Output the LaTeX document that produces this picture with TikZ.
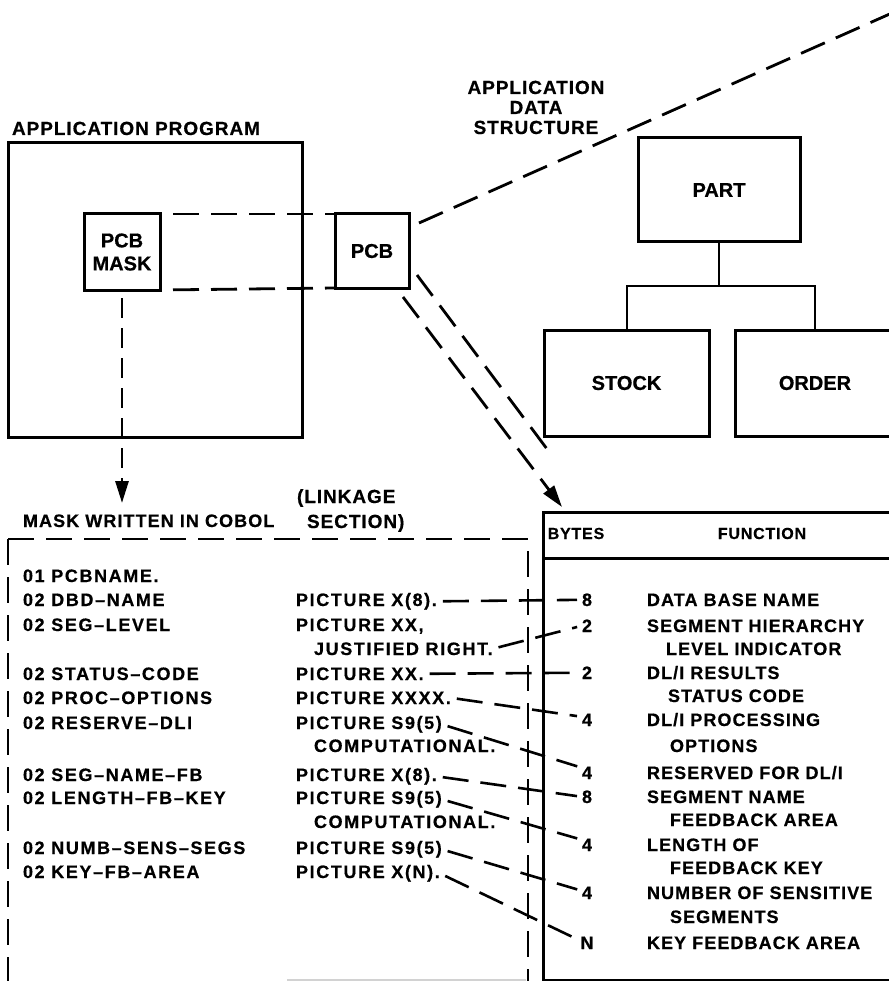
\documentclass[tikz,border=0pt]{standalone}
\usepackage{fontspec}
\setmainfont{Liberation Sans}[LetterSpace=9,BoldFeatures={FakeBold=0.6}]
\newfontfamily\rightfont{Liberation Sans}[LetterSpace=6,BoldFeatures={FakeBold=0.6}]
\newfontfamily\boxfont{Liberation Sans}[BoldFeatures={FakeBold=0.6}]
\newfontfamily\headfont{Liberation Sans}[LetterSpace=5,BoldFeatures={FakeBold=0.6}]
\usetikzlibrary{arrows.meta,calc}
\begin{document}
\begin{tikzpicture}[x=1pt,y=-1pt,
  every node/.style={inner sep=0pt,outer sep=0pt},
  txt/.style={anchor=base west,font=\bfseries\fontsize{18}{20}\selectfont},
  rtxt/.style={anchor=base west,font=\rightfont\bfseries\fontsize{18}{20}\selectfont},
  num/.style={anchor=base,font=\rightfont\bfseries\fontsize{18}{20}\selectfont},
  colhead/.style={anchor=base,font=\headfont\bfseries\fontsize{16}{20}\selectfont},
  headlbl/.style={font=\headfont\bfseries\fontsize{19}{20}\selectfont},
  boxlbl/.style={draw,line width=3pt,align=center,font=\boxfont\bfseries\fontsize{20}{23}\selectfont},
  dsh/.style={line width=2.8pt,dash pattern=on 26pt off 12pt},
  conn/.style={line width=2.6pt,dash pattern=on 26pt off 12pt,shorten <=6pt,shorten >=5pt},
  treeline/.style={line width=2pt},
  tblline/.style={line width=3pt},
  headtip/.style={-{Triangle[length=22pt,width=13pt]}}
]
\useasboundingbox (0,0) rectangle (888,981);
% headings
\node[headlbl,anchor=base west] (hprog) at (12,135) {APPLICATION PROGRAM};
\node[headlbl,anchor=base] (hads1) at (536,94) {APPLICATION};
\node[headlbl,anchor=base] (hads2) at (536,114) {DATA};
\node[headlbl,anchor=base] (hads3) at (536,134) {STRUCTURE};
% boxes
\node[boxlbl,minimum width=294,minimum height=294] (app) at (155.5,290) {};
\node[boxlbl,minimum width=76,minimum height=76] (mask) at (122,252) {PCB\\MASK};
\node[boxlbl,minimum width=74,minimum height=74] (pcb) at (372,251) {PCB};
\node[boxlbl,minimum width=162,minimum height=104] (part) at (719,190) {PART};
\node[boxlbl,minimum width=165,minimum height=106] (stock) at (626.5,383) {STOCK};
\node[boxlbl,minimum width=160,minimum height=106] (order) at (815,383) {ORDER};
% tree
\draw[treeline] (part.south) -- (part.south |- 0,286) coordinate (tj);
\draw[treeline] (stock.north) -- (stock.north |- tj) -| (order.north);
% mask - pcb
\draw[dsh,shorten <=13pt] (mask.north east) -- (pcb.north west);
\draw[dsh,shorten <=13pt] (mask.south east) -- (pcb.south west);
\coordinate (ne) at (892,13);
\draw[dsh] ([xshift=10pt,yshift=-9pt]pcb.north east) -- (ne);
\coordinate (tblend) at (553,457);
\coordinate (tbltip) at (562,507);
\draw[dsh] ([xshift=8pt,yshift=13pt]pcb.south east) -- (tblend);
\draw[dsh,headtip] ([xshift=-6pt,yshift=-9pt]pcb.south east) -- (tbltip);
\coordinate (ctip) at (122,503);
\draw[dsh,headtip,dash pattern=on 20pt off 10pt,shorten <=8pt] (mask.south) -- (ctip);
% cobol labels
\node[headlbl,anchor=base west] (link1) at (297,503) {(LINKAGE};
\node[headlbl,anchor=base west] (link2) at (307,528) {SECTION)};
\node[rtxt] (mwc) at (23,527) {MASK WRITTEN IN COBOL};
% cobol dashed frame
\draw[dsh] (8,539) -- (8,990);
\draw[dsh] (8,539) -- (528,539) -- (528,990);
\draw[gray!35,line width=1.5pt] (287,980) -- (526,980);
% table
\draw[tblline] (892,512) -- (543,512) -- (543,985);
\draw[tblline] (543,558) -- (892,558);
\draw[tblline] (543,980) -- (892,980);
\node[colhead] (hbytes) at (576,539) {BYTES};
\node[colhead] (hfunc) at (762,539) {FUNCTION};
% cobol lines
\node[txt] (l1) at (23,582) {01 PCBNAME.};
\node[txt] (l2) at (23,606) {02 DBD–NAME};
\node[txt] (l3) at (23,631) {02 SEG–LEVEL};
\node[txt] (l4) at (23,680) {02 STATUS–CODE};
\node[txt] (l5) at (23,704) {02 PROC–OPTIONS};
\node[txt] (l6) at (23,729) {02 RESERVE–DLI};
\node[txt] (l7) at (23,781) {02 SEG–NAME–FB};
\node[txt] (l8) at (23,804) {02 LENGTH–FB–KEY};
\node[txt] (l9) at (23,854) {02 NUMB–SENS–SEGS};
\node[txt] (l10) at (23,878) {02 KEY–FB–AREA};
\node[txt] (p2) at (296,606) {PICTURE X(8).};
\node[txt] (p3) at (296,631) {PICTURE XX,};
\node[txt] (p3b) at (314,655) {JUSTIFIED RIGHT.};
\node[txt] (p4) at (296,680) {PICTURE XX.};
\node[txt] (p5) at (296,704) {PICTURE XXXX.};
\node[txt] (p6) at (296,729) {PICTURE S9(5)};
\node[txt] (p6b) at (314,752) {COMPUTATIONAL.};
\node[txt] (p7) at (296,781) {PICTURE X(8).};
\node[txt] (p8) at (296,804) {PICTURE S9(5)};
\node[txt] (p8b) at (314,828) {COMPUTATIONAL.};
\node[txt] (p9) at (296,854) {PICTURE S9(5)};
\node[txt] (p10) at (296,878) {PICTURE X(N).};
% bytes
\node[num] (b1) at (587,606) {8};
\node[num] (b2) at (587,632) {2};
\node[num] (b3) at (587,679) {2};
\node[num] (b4) at (587,726) {4};
\node[num] (b5) at (587,779) {4};
\node[num] (b6) at (587,803) {8};
\node[num] (b7) at (587,851) {4};
\node[num] (b8) at (587,899) {4};
\node[num] (b9) at (587,949) {N};
% functions
\node[rtxt] (f1) at (647,606) {DATA BASE NAME};
\node[rtxt] (f2) at (647,632) {SEGMENT HIERARCHY};
\node[rtxt] (f2b) at (666,655) {LEVEL INDICATOR};
\node[rtxt] (f3) at (647,679) {DL/I RESULTS};
\node[rtxt] (f3b) at (668,702) {STATUS CODE};
\node[rtxt] (f4) at (647,726) {DL/I PROCESSING};
\node[rtxt] (f4b) at (670,752) {OPTIONS};
\node[rtxt] (f5) at (647,779) {RESERVED FOR DL/I};
\node[rtxt] (f6) at (647,803) {SEGMENT NAME};
\node[rtxt] (f6b) at (670,826) {FEEDBACK AREA};
\node[rtxt] (f7) at (647,851) {LENGTH OF};
\node[rtxt] (f7b) at (670,874) {FEEDBACK KEY};
\node[rtxt] (f8) at (647,899) {NUMBER OF SENSITIVE};
\node[rtxt] (f8b) at (670,923) {SEGMENTS};
\node[rtxt] (f9) at (647,949) {KEY FEEDBACK AREA};
% connectors
\draw[conn] (p2.east) -- (b1.west);
\draw[conn] (p3b.east) -- (b2.west);
\draw[conn] (p4.east) -- (b3.west);
\draw[conn] (p5.east) -- ([yshift=3pt]b4.west);
\draw[conn] (p6.east) -- ([yshift=5pt]b5.west);
\draw[conn] (p7.east) -- (b6.west);
\draw[conn] (p8.east) -- ([yshift=5pt]b7.west);
\draw[conn] (p9.east) -- ([yshift=2pt]b8.west);
\draw[conn] (p10.east) -- ([yshift=2pt]b9.west);
\end{tikzpicture}
\end{document}
